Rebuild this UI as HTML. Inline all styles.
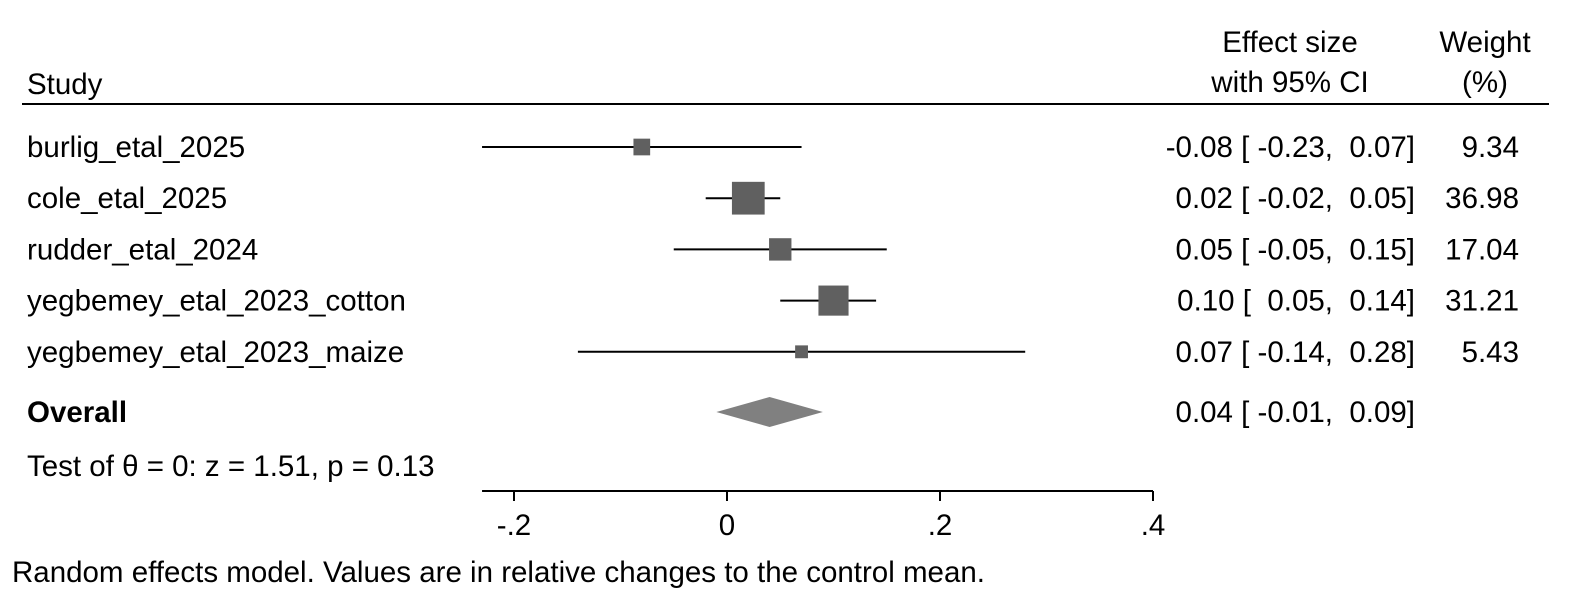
<!DOCTYPE html>
<html><head><meta charset="utf-8"><style>
body{margin:0;background:#fff}
svg{display:block;font-family:"Liberation Sans",Arial,sans-serif;font-size:29.5px}
text{white-space:pre}
</style></head><body>
<svg id="chart" width="1591" height="606" viewBox="0 0 1591 606">
<text x="27" y="94">Study</text>
<text x="1290" y="52" text-anchor="middle">Effect size</text>
<text x="1290" y="92" text-anchor="middle">with 95% CI</text>
<text x="1485" y="52" text-anchor="middle">Weight</text>
<text x="1485" y="92" text-anchor="middle">(%)</text>
<line x1="22" y1="104" x2="1549" y2="104" stroke="#000" stroke-width="2"/>
<g id="rows"></g>
<text x="27" y="476">Test of θ = 0: z = 1.51, p = 0.13</text>
<g id="axis"></g>
<text x="12" y="582">Random effects model. Values are in relative changes to the control mean.</text>
</svg>
<script>
const studies=["burlig_etal_2025","cole_etal_2025","rudder_etal_2024","yegbemey_etal_2023_cotton","yegbemey_etal_2023_maize"];
const effects=[-0.08,0.02,0.05,0.10,0.07];
const lower=[-0.23,-0.02,-0.05,0.05,-0.14];
const upper=[0.07,0.05,0.15,0.14,0.28];
const weights=[9.34,36.98,17.04,31.21,5.43];
const overall=[0.04,-0.01,0.09];
const tickVals=[-0.2,0,0.2,0.4];
const tickLabels=["-.2","0",".2",".4"];
const NS="http://www.w3.org/2000/svg";
const x=v=>727+v*1065;
const rowY=i=>147+i*51.2;
function mk(tag,attrs,parent,txt){const e=document.createElementNS(NS,tag);for(const k in attrs)e.setAttribute(k,attrs[k]);if(txt!==undefined)e.textContent=txt;parent.appendChild(e);return e;}
const fmt=v=>{let s=v.toFixed(2);return (v>=0?" ":"")+s;};
const rows=document.getElementById('rows');
studies.forEach((s,i)=>{
 const y=rowY(i);
 let t=mk('text',{x:27,y:y+10},rows,s);
 
 
 let l=mk('line',{x1:x(lower[i]),x2:x(upper[i]),y1:y,y2:y,stroke:'#000','stroke-width':2},rows);
 
 
 const sz=5.3*Math.sqrt(weights[i])+0.5;
 let r=mk('rect',{x:x(effects[i])-sz/2,y:y-sz/2,width:sz,height:sz,fill:'#606060'},rows);
 
 
 let v=mk('text',{x:1415,y:y+10,'text-anchor':'end'},rows,effects[i].toFixed(2)+" [ "+fmt(lower[i])+",  "+upper[i].toFixed(2)+"]");
 
 
 let w=mk('text',{x:1519,y:y+10,'text-anchor':'end'},rows,weights[i].toFixed(2));
 
 
});
const oy=412;
let ol=mk('text',{x:27,y:oy+10,'font-weight':'bold'},rows,"Overall");


let d=mk('polygon',{points:`${x(overall[1])},${oy} ${x(overall[0])},${oy-15} ${x(overall[2])},${oy} ${x(overall[0])},${oy+15}`,fill:'#808080'},rows);


let ov=mk('text',{x:1415,y:oy+10,'text-anchor':'end'},rows,overall[0].toFixed(2)+" [ "+fmt(overall[1])+",  "+overall[2].toFixed(2)+"]");


const ax=document.getElementById('axis');
let al=mk('line',{x1:x(Math.min(...lower)),x2:x(0.4),y1:491,y2:491,stroke:'#000','stroke-width':2},ax);


tickVals.forEach((v,i)=>{
 let tk=mk('line',{x1:x(v),x2:x(v),y1:491,y2:501,stroke:'#000','stroke-width':2},ax);
 
 
 let tl=mk('text',{x:x(v),y:535,'text-anchor':'middle'},ax,tickLabels[i]);
 
 
});
</script>
</body></html>
